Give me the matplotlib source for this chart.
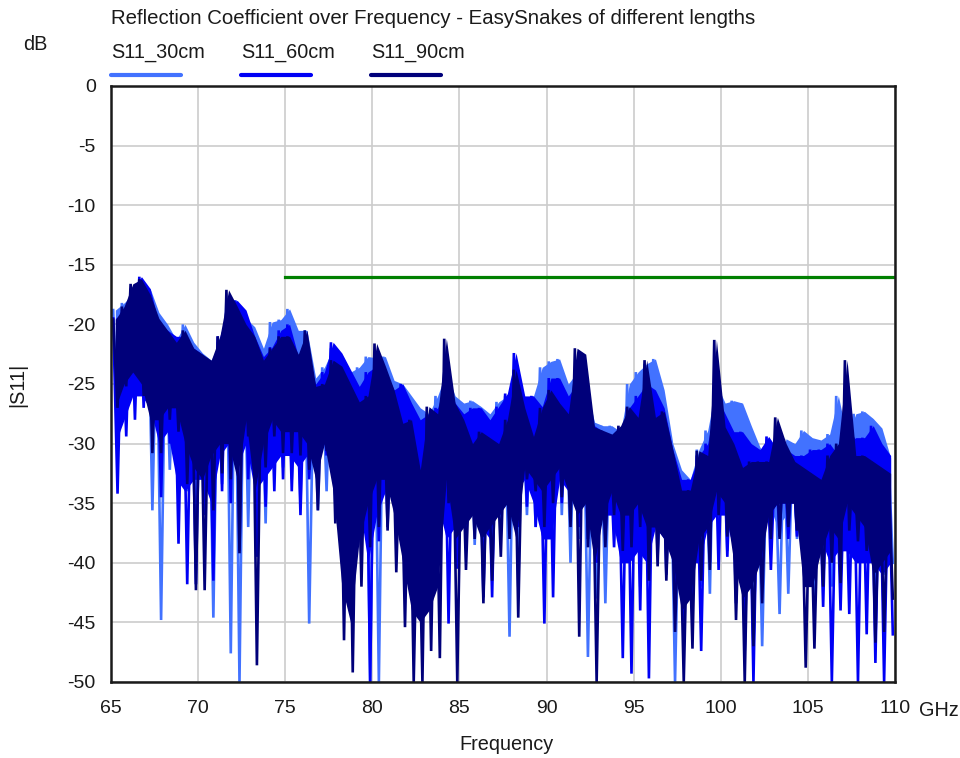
import numpy as np
import matplotlib
matplotlib.use("Agg")
import matplotlib.pyplot as plt
from matplotlib.lines import Line2D

plt.rcParams['font.family'] = ['Liberation Sans', 'DejaVu Sans']
plt.rcParams['axes.unicode_minus'] = False

# 0.5 GHz bins starting at 65.0 ... 109.5 ; per bin: upper value, lower edge of the dense band,
# and deepest dip read (dB)
bin_start = np.arange(65.0, 110.0, 0.5)

hi_30 = [-18.8, -18.2, -17.5, -16.5, -17.0, -19.0, -20.0, -21.3, -20.0, -21.5,
         -22.4, -23.0, -21.5, -17.8, -18.0, -19.5, -20.2, -22.0, -19.8, -19.6,
         -18.7, -20.5, -20.5, -24.5, -23.6, -22.0, -23.5, -24.0, -23.6, -22.7,
         -22.8, -22.7, -24.7, -25.0, -26.0, -27.0, -27.5, -26.0, -24.0, -26.0,
         -26.6, -26.4, -26.9, -27.5, -26.5, -26.0, -24.0, -26.1, -26.0, -23.6,
         -23.1, -22.9, -25.0, -24.0, -25.0, -28.2, -28.5, -28.5, -29.0, -25.0,
         -24.0, -23.3, -22.9, -25.5, -30.0, -32.2, -33.0, -30.5, -28.9, -25.0,
         -26.6, -26.4, -26.6, -28.5, -30.3, -31.5, -31.8, -29.6, -30.0, -28.9,
         -29.5, -29.7, -29.2, -26.0, -29.5, -27.5, -27.3, -27.9, -28.7, -31.2]
core_30 = [-26, -25, -23, -23, -26, -28, -28, -28, -30, -31,
           -31, -33, -29, -28, -30, -29, -30, -31, -28, -28,
           -28, -30, -30, -31, -29, -30, -31, -33, -32, -35,
           -34, -32, -33, -31, -33, -34, -34, -33, -32, -35,
           -34, -34, -35, -34, -33, -34, -33, -32, -33, -33,
           -32, -31, -33, -33, -35, -36, -35, -33, -35, -33,
           -33, -33, -33, -34, -39, -40, -39, -37, -36, -33,
           -34, -34, -35, -38, -38, -35, -37, -36, -34, -35,
           -36, -36, -36, -34, -35, -35, -35, -36, -36, -36]
lo_30 = [-29.0, -27.0, -24.7, -25.5, -35.6, -44.8, -32.2, -30.0, -34.0, -38.0,
         -35.0, -44.6, -33.4, -47.6, -50.0, -37.0, -36.0, -36.7, -32.0, -32.0,
         -33.0, -35.0, -45.1, -35.6, -34.0, -35.0, -36.0, -38.0, -36.0, -50.0,
         -50.0, -36.0, -38.0, -34.0, -37.0, -38.0, -37.0, -36.0, -36.0, -40.0,
         -37.5, -38.5, -40.0, -38.0, -37.0, -46.2, -42.0, -36.0, -37.0, -38.0,
         -38.0, -36.0, -40.0, -38.0, -47.9, -43.0, -43.4, -36.0, -40.0, -39.0,
         -42.0, -40.0, -39.0, -39.0, -50.0, -45.0, -44.0, -42.0, -42.6, -38.0,
         -39.0, -40.0, -41.0, -47.6, -47.0, -38.0, -44.3, -42.6, -38.0, -39.0,
         -43.8, -41.0, -42.0, -40.0, -41.0, -39.0, -40.0, -42.0, -41.0, -40.0]

hi_60 = [-19.5, -19.0, -17.0, -16.0, -17.0, -20.0, -20.5, -21.0, -21.0, -22.0,
         -22.5, -23.5, -21.0, -18.5, -18.0, -18.8, -21.0, -22.7, -21.9, -20.5,
         -20.0, -22.7, -22.7, -25.0, -24.0, -21.5, -22.4, -23.8, -25.2, -24.0,
         -23.5, -24.0, -25.5, -25.0, -26.6, -28.0, -27.5, -27.0, -24.5, -26.6,
         -27.5, -27.0, -27.0, -28.0, -26.9, -25.8, -22.4, -26.0, -26.0, -26.9,
         -24.5, -24.5, -26.0, -25.0, -26.5, -28.5, -29.0, -29.5, -29.2, -27.0,
         -26.0, -25.0, -25.5, -27.0, -30.5, -33.0, -33.0, -31.0, -30.0, -26.0,
         -27.5, -29.0, -29.0, -30.0, -30.5, -29.4, -30.5, -30.5, -31.0, -31.0,
         -30.5, -30.5, -30.0, -31.0, -30.0, -29.5, -29.5, -28.5, -30.0, -31.0]
core_60 = [-30, -28, -26, -26, -27, -30, -29, -33, -34, -33,
           -33, -35, -31, -30, -32, -30, -34, -33, -32, -31,
           -31, -32, -31, -31, -30, -31, -33, -36, -35, -40,
           -36, -34, -34, -35, -34, -36, -36, -35, -38, -37,
           -35, -33, -37, -38, -34, -34, -34, -33, -35, -38,
           -38, -33, -34, -35, -35, -36, -36, -36, -40, -40,
           -39, -40, -37, -38, -39, -41, -40, -40, -37, -36,
           -36, -39, -41, -40, -38, -36, -35, -35, -35, -36,
           -37, -38, -40, -39, -39, -40, -40, -40, -41, -40]
lo_60 = [-34.2, -29.4, -28.0, -27.0, -29.0, -34.5, -30.0, -38.4, -41.8, -41.8,
         -36.0, -41.5, -34.0, -35.0, -39.0, -33.0, -39.5, -35.3, -34.0, -33.0,
         -34.0, -36.0, -33.0, -33.0, -31.0, -33.0, -35.0, -40.0, -37.0, -50.0,
         -38.2, -37.0, -36.0, -38.0, -35.0, -39.0, -38.0, -37.0, -45.1, -40.5,
         -38.0, -35.0, -42.9, -42.9, -36.0, -37.0, -37.0, -35.3, -37.0, -45.1,
         -42.9, -35.0, -36.0, -37.0, -38.0, -40.0, -38.0, -38.7, -48.0, -49.3,
         -44.0, -49.7, -39.5, -41.0, -42.0, -45.0, -43.4, -47.4, -40.0, -40.6,
         -39.5, -43.4, -47.4, -50.0, -41.8, -40.6, -37.8, -38.0, -37.8, -40.0,
         -40.0, -43.7, -50.0, -44.0, -44.3, -50.0, -46.0, -48.4, -50.0, -46.0]

hi_90 = [-19.6, -18.5, -16.6, -16.2, -17.5, -19.5, -20.5, -21.5, -20.5, -22.0,
         -22.5, -23.0, -21.0, -17.1, -18.5, -20.0, -21.0, -23.0, -22.0, -21.0,
         -21.0, -22.5, -20.5, -25.2, -25.0, -23.0, -23.5, -25.0, -26.5, -26.0,
         -21.6, -23.5, -25.5, -28.3, -28.0, -32.2, -26.9, -27.5, -21.2, -26.6,
         -28.0, -30.0, -29.0, -29.5, -30.0, -28.0, -23.8, -27.0, -29.4, -27.0,
         -25.5, -26.6, -27.5, -22.0, -22.5, -28.6, -28.9, -29.2, -28.5, -26.9,
         -27.8, -23.0, -27.8, -27.3, -30.5, -33.9, -33.9, -30.6, -31.0, -21.3,
         -28.6, -30.0, -32.0, -31.5, -31.5, -31.5, -27.8, -30.0, -31.5, -32.0,
         -32.5, -33.0, -31.0, -30.0, -23.0, -31.0, -31.0, -31.5, -32.0, -32.5]
core_90 = [-27, -25, -24, -25, -28, -28, -27, -27, -30, -32,
           -33, -31, -30, -30, -33, -28, -34, -30, -28, -29,
           -29, -29, -30, -33, -30, -34, -42, -45, -38, -35,
           -33, -33, -36, -40, -44, -45, -44, -42, -33, -38,
           -37, -36, -38, -37, -36, -35, -38, -32, -33, -34,
           -33, -32, -34, -36, -35, -40, -36, -34, -36, -36,
           -35, -37, -37, -38, -40, -44, -43, -38, -37, -34,
           -35, -40, -43, -42, -40, -36, -35, -35, -35, -42,
           -42, -39, -37, -38, -35, -36, -37, -41, -40, -39]
lo_90 = [-27.0, -25.2, -24.0, -26.0, -30.8, -30.8, -28.0, -29.0, -33.4, -42.3,
         -42.3, -35.6, -32.5, -33.0, -39.2, -29.4, -48.6, -32.0, -29.4, -30.8,
         -30.8, -31.0, -32.2, -35.6, -30.6, -36.7, -46.5, -49.2, -42.0, -38.7,
         -37.0, -37.3, -40.8, -45.4, -50.0, -50.0, -47.4, -48.0, -35.0, -50.0,
         -40.6, -38.0, -43.4, -41.5, -39.5, -38.0, -44.6, -33.0, -34.0, -37.0,
         -35.0, -34.5, -37.0, -46.2, -38.7, -50.0, -38.7, -36.0, -39.0, -38.7,
         -37.0, -41.5, -40.3, -41.5, -45.8, -50.0, -47.2, -41.5, -40.6, -36.0,
         -37.8, -44.8, -50.0, -47.0, -43.4, -38.0, -38.0, -37.0, -37.3, -48.8,
         -47.2, -42.0, -40.0, -41.7, -37.3, -38.2, -39.0, -46.7, -45.8, -43.0]

limit_db = -16.0
limit_start, limit_stop = 75.0, 110.0

series = [("S11_30cm", hi_30, core_30, lo_30, "#4272FF"),
          ("S11_60cm", hi_60, core_60, lo_60, "#0000F5"),
          ("S11_90cm", hi_90, core_90, lo_90, "#00007A")]

fs = 14.3

fig = plt.figure(figsize=(9.6, 7.58), dpi=100)
ax = fig.add_axes([111/960, 76/758, 784/960, 596/758])

for k, (name, hi, core, lo, col) in enumerate(series):
    xc = bin_start + 0.25
    ax.fill_between(xc, hi, core, color=col, lw=0, zorder=3 + k)
    x = np.empty(2 * len(bin_start))
    y = np.empty(2 * len(bin_start))
    x[0::2] = bin_start + 0.125
    x[1::2] = bin_start + 0.375
    y[0::2] = hi
    y[1::2] = lo
    ax.plot(x, y, color=col, lw=1.9, solid_joinstyle='miter', zorder=3 + k)

ax.plot([limit_start, limit_stop], [limit_db, limit_db], color="#008000", lw=2.3, zorder=10)

ax.set_xlim(65, 110)
ax.set_ylim(-50, 0)
ax.set_xticks(np.arange(65, 111, 5))
ax.set_yticks(np.arange(-50, 1, 5))
ax.grid(True, color="#CCCCCC", lw=1.2)
ax.set_axisbelow(True)
ax.tick_params(length=0, labelsize=14, colors="#1a1a1a")
ax.tick_params(axis='x', pad=13)
ax.tick_params(axis='y', pad=11)
for s in ax.spines.values():
    s.set_linewidth(1.8)
    s.set_color("#1a1a1a")
    s.set_zorder(11)

fig.text(111/960, 1 - 18/758, "Reflection Coefficient over Frequency - EasySnakes of different lengths",
         fontsize=14.7, va='center', ha='left', color="#1a1a1a")
fig.text(35/960, 1 - 45/758, "dB", fontsize=fs, va='center', ha='center', color="#1a1a1a")
fig.text(18/960, 1 - 385/758, "|S11|", fontsize=fs, va='center', ha='center', rotation=90, color="#1a1a1a")
fig.text(507/960, 1 - 745/758, "Frequency", fontsize=fs, va='center', ha='center', color="#1a1a1a")
fig.text(919/960, 1 - 711/758, "GHz", fontsize=fs, va='center', ha='left', color="#1a1a1a")

for i, (name, hi, core, lo, col) in enumerate(series):
    x0 = (111 + 130 * i) / 960
    fig.text(x0, 1 - 53/758, name, fontsize=fs, va='center', ha='left', color="#1a1a1a")
    fig.add_artist(Line2D([x0, x0 + 70/960], [1 - 75/758, 1 - 75/758], color=col, lw=3,
                          solid_capstyle='round', transform=fig.transFigure))

fig.savefig("out.png", dpi=100)
